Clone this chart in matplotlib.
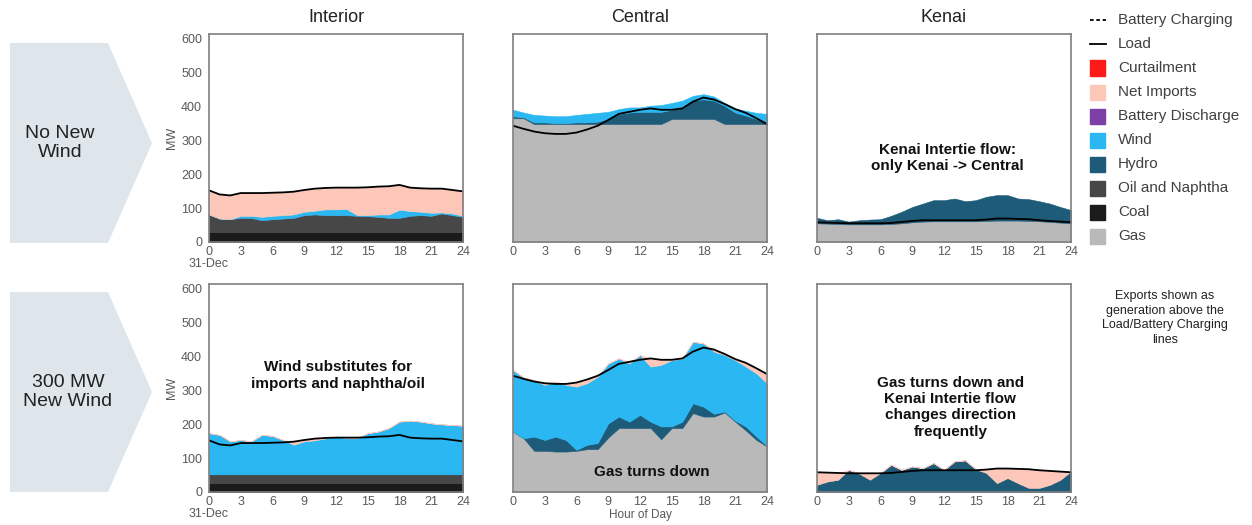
import numpy as np
import matplotlib.pyplot as plt
from matplotlib.patches import Polygon, Rectangle
from matplotlib.lines import Line2D

plt.rcParams['font.family'] = ['Liberation Sans', 'DejaVu Sans']

hours = np.arange(0, 25)

# load is the same in both scenarios (MW)
interior_load = [152, 140, 137, 144, 144, 144, 145, 146, 148, 153, 157, 159, 160,
                 160, 160, 161, 163, 164, 168, 160, 158, 157, 157, 153, 149]
central_load = [342, 333, 325, 320, 318, 318, 322, 331, 342, 359, 377, 383, 389,
                393, 389, 389, 393, 413, 425, 419, 406, 391, 380, 364, 347]
kenai_load = [58, 57, 56, 55, 55, 55, 55, 56, 59, 62, 64, 64, 64,
              64, 64, 64, 66, 69, 69, 68, 67, 64, 62, 60, 58]

# no new wind
int1_coal = [30] * 25
int1_oil = [51, 39, 37, 41, 41, 34, 37, 39, 41, 49, 51, 49, 49,
            49, 47, 46, 44, 41, 41, 47, 49, 47, 54, 49, 44]
int1_wind = [0, 0, 0, 6, 6, 10, 10, 10, 10, 10, 11, 17, 17,
             18, 2, 3, 7, 10, 24, 14, 10, 9, 3, 5, 3]
int1_imports = [71, 71, 70, 67, 67, 70, 68, 67, 67, 64, 65, 63, 64,
                63, 81, 82, 82, 83, 73, 69, 69, 71, 70, 69, 72]

cen1_gas = [364, 364, 347, 347, 347, 347, 347, 347, 347, 347, 347, 347, 347,
            347, 347, 362, 362, 362, 362, 362, 347, 347, 347, 347, 347]
cen1_hydro = [6, 3, 5, 5, 3, 3, 5, 5, 7, 15, 30, 34, 36,
              36, 36, 27, 34, 54, 58, 54, 54, 34, 25, 15, 3]
cen1_wind = [19, 14, 22, 20, 20, 20, 22, 25, 26, 21, 14, 15, 13,
             18, 20, 20, 20, 14, 15, 12, 8, 12, 14, 18, 27]

ken1_gas = [55, 54, 53, 52, 52, 52, 52, 53, 55, 58, 60, 61, 61,
            61, 61, 61, 62, 63, 63, 63, 62, 61, 59, 57, 55]
ken1_hydro = [16, 10, 14, 8, 12, 14, 15, 24, 34, 45, 53, 62, 62,
              67, 59, 62, 71, 75, 75, 65, 64, 59, 54, 46, 39]

# 300 MW new wind
int2_coal = [26] * 25
int2_oil = [26] * 25
int2_wind = [121, 116, 97, 101, 97, 116, 113, 101, 87, 97, 100, 106, 111,
             106, 106, 121, 126, 136, 155, 158, 155, 150, 147, 145, 143]
int2_imports = [0, 0, 0, 0, 0, 0, 0, 0, 9, 4, 5, 0, 0,
                2, 2, 0, 0, 0, 0, 0, 0, 0, 0, 0, 0]

cen2_gas = [178, 158, 121, 121, 119, 119, 121, 126, 126, 160, 188, 188, 188,
            188, 155, 188, 188, 232, 222, 222, 234, 207, 181, 153, 134]
cen2_hydro = [0, 0, 42, 32, 44, 34, 3, 13, 18, 42, 34, 19, 39,
              19, 38, 5, 19, 29, 29, 8, 3, 3, 12, 10, 2]
cen2_wind = [181, 179, 166, 162, 162, 162, 186, 181, 195, 176, 171, 171, 176,
             162, 181, 195, 186, 181, 186, 183, 166, 178, 176, 186, 184]
cen2_imports = [0, 0, 0, 5, 0, 3, 12, 11, 3, 0, 0, 5, 0,
                24, 15, 1, 0, 0, 0, 6, 3, 3, 11, 15, 27]

ken2_hydro = [21, 31, 36, 65, 54, 36, 56, 80, 65, 75, 70, 85, 65,
              90, 93, 67, 56, 26, 41, 26, 12, 12, 21, 36, 61]
ken2_imports = [37, 26, 20, 0, 1, 19, 0, 0, 0, 0, 0, 0, 0,
                0, 0, 0, 10, 43, 28, 42, 55, 52, 41, 24, 0]

legend_labels = ["Battery Charging", "Load", "Curtailment", "Net Imports", "Battery Discharge",
                 "Wind", "Hydro", "Oil and Naphtha", "Coal", "Gas"]

colors = {"Curtailment": "#ff1a1a", "Net Imports": "#fdc8b9", "Battery Discharge": "#7b3fa6",
          "Wind": "#2ab7f2", "Hydro": "#1d5b79", "Oil and Naphtha": "#474747",
          "Coal": "#1b1b1b", "Gas": "#b9b9b9"}

W, H = 1252, 525
tick_grey = "#595959"


def fx(x):
    return x / W


def fy(y):
    return 1 - y / H


fig = plt.figure(figsize=(W / 100, H / 100), dpi=100)


def panel(left, top, layers, load, first_col=False):
    ax = fig.add_axes([fx(left), fy(top + 208), 254 / W, 208 / H])
    vals = [v for v, c in layers]
    cols = [colors[c] for v, c in layers]
    polys = ax.stackplot(hours, *vals, colors=cols)
    for p in polys:
        p.set_edgecolor(p.get_facecolor())
        p.set_linewidth(0.4)
    ax.plot(hours, load, color="k", lw=1.3)
    ax.set_xlim(0, 24)
    ax.set_ylim(0, 612)
    ax.set_xticks(range(0, 25, 3))
    ax.tick_params(length=0, labelsize=9, labelcolor=tick_grey, pad=3)
    for s in ax.spines.values():
        s.set_color("#7f7f7f")
        s.set_linewidth(1.2)
    if first_col:
        ax.set_yticks(range(0, 601, 100))
        ax.tick_params(axis="y", pad=5)
        ax.set_ylabel("MW", fontsize=9, color=tick_grey, labelpad=2)
        ax.annotate("31-Dec", xy=(0, 0), xycoords="data", xytext=(0, -15.5),
                    textcoords="offset points", ha="center", va="center",
                    fontsize=9, color=tick_grey, annotation_clip=False)
    else:
        ax.set_yticks([])
    return ax


# top row: no new wind
panel(209, 34, [(int1_coal, "Coal"), (int1_oil, "Oil and Naphtha"), (int1_wind, "Wind"),
                (int1_imports, "Net Imports")], interior_load, first_col=True)
panel(513, 34, [(cen1_gas, "Gas"), (cen1_hydro, "Hydro"), (cen1_wind, "Wind")], central_load)
ax = panel(817, 34, [(ken1_gas, "Gas"), (ken1_hydro, "Hydro")], kenai_load)
ax.text(12.3, 246, "Kenai Intertie flow:\nonly Kenai -> Central", ha="center", va="center",
        fontsize=11, fontweight="bold", color="#111111")

# bottom row: 300 MW new wind
ax = panel(209, 284, [(int2_coal, "Coal"), (int2_oil, "Oil and Naphtha"), (int2_wind, "Wind"),
                      (int2_imports, "Net Imports")], interior_load, first_col=True)
ax.text(12.2, 343, "Wind substitutes for\nimports and naphtha/oil", ha="center", va="center",
        fontsize=11, fontweight="bold", color="#111111")
ax = panel(513, 284, [(cen2_gas, "Gas"), (cen2_hydro, "Hydro"), (cen2_wind, "Wind"),
                      (cen2_imports, "Net Imports")], central_load)
ax.text(13.1, 59, "Gas turns down", ha="center", va="center",
        fontsize=11, fontweight="bold", color="#111111")
ax = panel(817, 284, [(ken2_hydro, "Hydro"), (ken2_imports, "Net Imports")], kenai_load)
ax.text(12.6, 249, "Gas turns down and\nKenai Intertie flow\nchanges direction\nfrequently",
        ha="center", va="center", fontsize=11, fontweight="bold", color="#111111")

# column titles
for x, t in zip([336, 640, 944], ["Interior", "Central", "Kenai"]):
    fig.text(fx(x), fy(17), t, ha="center", va="center", fontsize=13, color="#222222")
fig.text(fx(640), fy(515), "Hour of Day", ha="center", va="center", fontsize=8.5, color=tick_grey)

# row label chevrons
for top, label, tx in [(43, "No New\nWind", 60), (292, "300 MW\nNew Wind", 68)]:
    pts = [(10, top), (108, top), (152, top + 100), (108, top + 200), (10, top + 200)]
    fig.add_artist(Polygon([(fx(x), fy(y)) for x, y in pts], closed=True,
                           transform=fig.transFigure, facecolor="#dfe6eb", edgecolor="none"))
    fig.text(fx(tx), fy(top + 100), label, ha="center", va="center", fontsize=14,
             color="#222222", linespacing=1.15)

# legend
for i, lab in enumerate(legend_labels):
    y = 20 + 24 * i
    if lab == "Battery Charging":
        fig.add_artist(Line2D([fx(1090), fx(1106)], [fy(y), fy(y)], transform=fig.transFigure,
                              color="k", lw=1.3, dashes=(2, 1.5)))
    elif lab == "Load":
        fig.add_artist(Line2D([fx(1090), fx(1106)], [fy(y), fy(y)], transform=fig.transFigure,
                              color="k", lw=1.3))
    else:
        fig.add_artist(Rectangle((fx(1090), fy(y + 7.5)), 15 / W, 15 / H,
                                 transform=fig.transFigure, color=colors[lab]))
    fig.text(fx(1118), fy(y), lab, ha="left", va="center", fontsize=11, color="#404040")

fig.text(fx(1165), fy(318), "Exports shown as\ngeneration above the\nLoad/Battery Charging\nlines",
         ha="center", va="center", fontsize=9, color="#222222", linespacing=1.3)

fig.savefig("out.png", dpi=100)
